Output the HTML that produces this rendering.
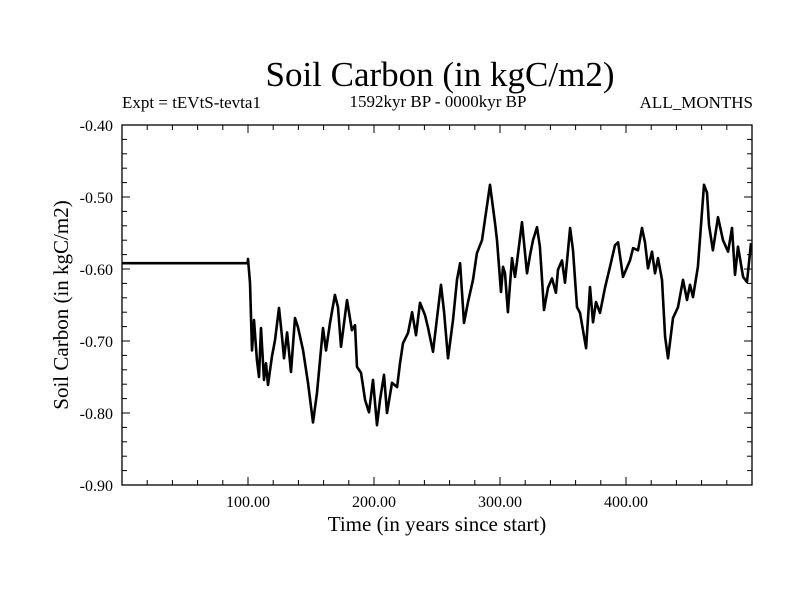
<!DOCTYPE html>
<html><head><meta charset="utf-8"><style>
body{margin:0;background:#fff}
svg{display:block;font-family:"Liberation Serif",serif}
</style></head><body>
<svg id="chart" width="800" height="600" viewBox="0 0 800 600">
<rect width="800" height="600" fill="#fff"/>
<text x="440" y="86" font-size="35" text-anchor="middle">Soil Carbon (in kgC/m2)</text>
<text x="122" y="108" font-size="17">Expt = tEVtS-tevta1</text>
<text x="438" y="107" font-size="17" text-anchor="middle">1592kyr BP - 0000kyr BP</text>
<text x="753" y="108" font-size="17" text-anchor="end">ALL_MONTHS</text>
<text x="437" y="531" font-size="21" text-anchor="middle">Time (in years since start)</text>
<text transform="translate(68,305) rotate(-90)" font-size="21" text-anchor="middle">Soil Carbon (in kgC/m2)</text>
<g id="axes"></g>
<path id="series" fill="none" stroke="#000" stroke-width="2.6" stroke-linejoin="round"/>
<rect x="122" y="125" width="630" height="360" fill="none" stroke="#000" stroke-width="1.3"/>
</svg>
<script>
const years=[0,99.8,100.0,101.6,103.2,104.8,107.1,108.7,110.3,112.7,114.3,115.9,119.0,121.4,124.6,127.0,128.6,131.0,134.1,137.3,139.7,143.7,147.6,151.6,154.8,159.5,161.9,165.1,169.0,171.4,173.8,178.6,182.5,184.9,186.5,189.7,192.9,196.0,199.2,202.4,204.8,207.9,210.3,214.3,218.3,220.6,223.0,227.0,230.2,233.3,236.5,240.5,242.9,246.8,250.0,253.2,255.6,258.7,262.7,265.9,268.3,271.4,274.6,278.6,281.7,285.7,292.1,296.0,297.6,300.8,302.4,304.0,306.3,309.5,311.9,313.5,317.5,321.4,323.8,326.2,329.4,331.7,334.9,338.1,341.3,344.4,346.0,349.2,351.6,355.6,357.9,361.1,363.5,368.3,371.4,373.8,376.2,379.4,383.3,387.3,391.3,393.7,397.6,403.2,405.6,409.5,412.7,415.1,417.5,420.6,423.0,425.4,428.6,431.0,433.3,437.3,441.3,445.2,448.4,450.8,453.2,457.1,459.5,461.9,464.3,465.9,469.0,473.0,477.0,481.0,484.1,486.5,488.9,492.9,496.0,499.2];
const carbon=[-0.592,-0.592,-0.586,-0.619,-0.713,-0.671,-0.726,-0.750,-0.682,-0.754,-0.731,-0.761,-0.722,-0.699,-0.654,-0.694,-0.724,-0.688,-0.743,-0.668,-0.681,-0.713,-0.758,-0.813,-0.772,-0.682,-0.713,-0.675,-0.636,-0.653,-0.708,-0.643,-0.685,-0.678,-0.736,-0.744,-0.782,-0.799,-0.754,-0.817,-0.782,-0.747,-0.800,-0.758,-0.764,-0.731,-0.703,-0.689,-0.660,-0.692,-0.647,-0.664,-0.682,-0.715,-0.668,-0.622,-0.660,-0.724,-0.671,-0.615,-0.592,-0.675,-0.646,-0.615,-0.578,-0.560,-0.483,-0.536,-0.560,-0.632,-0.597,-0.606,-0.660,-0.585,-0.611,-0.590,-0.535,-0.606,-0.581,-0.560,-0.542,-0.569,-0.657,-0.626,-0.613,-0.633,-0.601,-0.588,-0.619,-0.543,-0.574,-0.653,-0.661,-0.710,-0.625,-0.674,-0.646,-0.661,-0.626,-0.597,-0.567,-0.563,-0.611,-0.588,-0.571,-0.574,-0.543,-0.563,-0.599,-0.576,-0.606,-0.585,-0.615,-0.694,-0.724,-0.668,-0.653,-0.615,-0.643,-0.622,-0.639,-0.597,-0.539,-0.483,-0.494,-0.539,-0.574,-0.528,-0.560,-0.576,-0.543,-0.608,-0.569,-0.611,-0.618,-0.564];
const xTickLabels=["100.00","200.00","300.00","400.00"];
const xTickValues=[100,200,300,400];
const yTickLabels=["-0.40","-0.50","-0.60","-0.70","-0.80","-0.90"];
const yTickValues=[-0.4,-0.5,-0.6,-0.7,-0.8,-0.9];
const X0=122,X1=752,Y0=125,Y1=485,XMIN=0,XMAX=500,YMIN=-0.9,YMAX=-0.4;
const xs=v=>X0+(v-XMIN)/(XMAX-XMIN)*(X1-X0);
const ys=v=>Y1-(v-YMIN)/(YMAX-YMIN)*(Y1-Y0);
const NS="http://www.w3.org/2000/svg";
const axes=document.getElementById('axes');
function line(x1,y1,x2,y2,name){const l=document.createElementNS(NS,'line');
l.setAttribute('x1',x1);l.setAttribute('y1',y1);l.setAttribute('x2',x2);l.setAttribute('y2',y2);
l.setAttribute('stroke','#000');l.setAttribute('stroke-width','1');


axes.appendChild(l);}
function text(x,y,s,anchor,name){const t=document.createElementNS(NS,'text');
t.setAttribute('x',x);t.setAttribute('y',y);t.setAttribute('font-size','16');t.setAttribute('text-anchor',anchor);t.textContent=s;


axes.appendChild(t);}
for(let v=20;v<XMAX;v+=20){const x=xs(v);const L=(v%100===0)?8:5;
line(x,Y1,x,Y1-L,'x-tick');line(x,Y0,x,Y0+L,'x-tick-top');}
for(let i=1;i<25;i++){const v=YMIN+i*0.02;const y=ys(v);const L=(i%5===0)?8:5;
line(X0,y,X0+L,y,'y-tick');line(X1,y,X1-L,y,'y-tick-right');}
xTickValues.forEach((v,i)=>text(xs(v),507,xTickLabels[i],'middle','x-tick-label'));
yTickValues.forEach((v,i)=>text(113,ys(v)+6,yTickLabels[i],'end','y-tick-label'));
document.getElementById('series').setAttribute('d',years.map((y,i)=>(i?'L':'M')+xs(y).toFixed(1)+' '+ys(carbon[i]).toFixed(1)).join(' '));
</script>
</body></html>
